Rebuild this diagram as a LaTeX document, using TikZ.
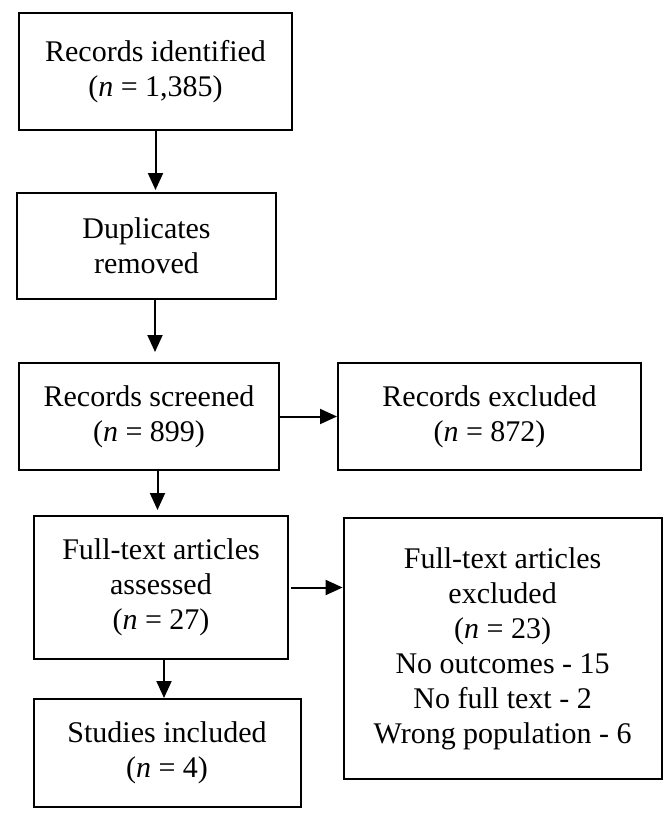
\documentclass[tikz,border=0pt]{standalone}
\usepackage{fontspec}
\setmainfont{Liberation Serif}
\usetikzlibrary{positioning, arrows.meta}

\begin{document}
\begin{tikzpicture}[
    node distance=30pt,
    box/.style={rectangle, draw, line width=1pt, align=center, inner sep=2pt, font=\fontsize{15}{17.5}\selectfont},
    arrow/.style={-{Triangle[length=8.5pt, width=7.5pt]}, line width=1pt},
]
\useasboundingbox (0,0) rectangle (335pt,-407pt);

% ============ Identification ============
\node[box, minimum width=136.5pt, minimum height=58.5pt] (identified) at (77.75pt,-35.75pt)
      {Records identified\\(\textit{n} = 1,385)};

\node[box, minimum width=129.5pt, minimum height=53pt, below=30.5pt of identified, xshift=-4.5pt] (duplicates)
      {Duplicates\\removed};

% ============ Screening ============
\node[box, minimum width=130pt, minimum height=53.5pt, below=31pt of duplicates, xshift=1.25pt] (screened)
      {Records screened\\(\textit{n} = 899)};

\node[box, minimum width=151.5pt, minimum height=53.5pt, right=28.5pt of screened] (excluded)
      {Records excluded\\(\textit{n} = 872)};

% ============ Eligibility ============
\node[box, minimum width=127pt, minimum height=71.5pt, below=22pt of screened, xshift=6pt] (assessed)
      {Full-text articles\\assessed\\(\textit{n} = 27)};

\node[box, minimum width=159pt, minimum height=130.5pt, below right=1pt and 26.8pt of assessed.north east] (ft_excluded)
      {Full-text articles\\excluded\\(\textit{n} = 23)\\No outcomes - 15\\No full text - 2\\Wrong population - 6};

% ============ Included ============
\node[box, minimum width=133.5pt, minimum height=54pt, below=19pt of assessed, xshift=3pt] (included)
      {Studies included\\(\textit{n} = 4)};

% ============ Arrows ============
\draw[arrow, shorten >=1pt] (identified.south) -- (identified.south |- duplicates.north);
\draw[arrow, shorten >=5pt] ([xshift=4.25pt]duplicates.south) -- ([xshift=4.25pt]duplicates.south |- screened.north);
\draw[arrow] (screened) -- (excluded);
\draw[arrow, shorten >=2.5pt] ([xshift=4.25pt]screened.south) -- ([xshift=4.25pt]screened.south |- assessed.north);
\draw[arrow] ([xshift=1pt]assessed.east) -- (assessed.east -| ft_excluded.west);
\draw[arrow] ([xshift=1.5pt]assessed.south) -- ([xshift=1.5pt]assessed.south |- included.north);

\end{tikzpicture}
\end{document}
